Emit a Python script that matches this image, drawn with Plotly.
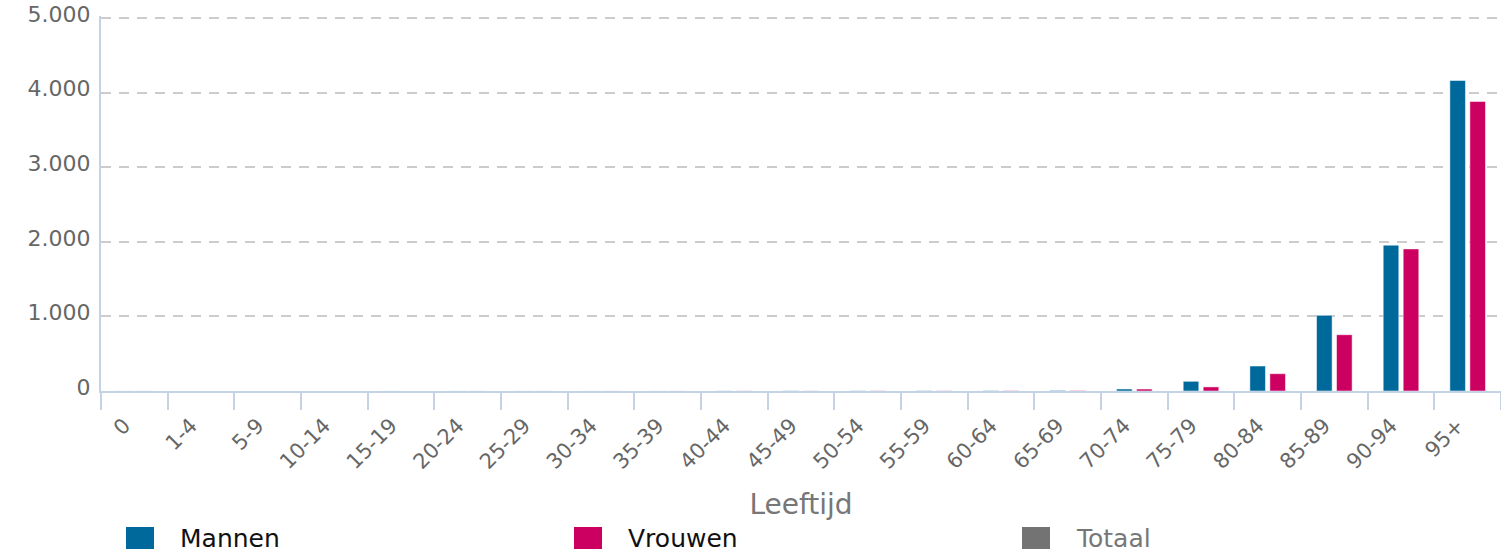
import plotly.graph_objects as go

leeftijd = ["0", "1-4", "5-9", "10-14", "15-19", "20-24", "25-29", "30-34", "35-39",
            "40-44", "45-49", "50-54", "55-59", "60-64", "65-69", "70-74", "75-79",
            "80-84", "85-89", "90-94", "95+"]
mannen = [1, 0, 0, 0, 1, 1, 1, 1, 1, 2, 3, 3, 4, 5, 8, 27, 130, 335, 1015, 1956, 4165]
vrouwen = [1, 0, 0, 0, 0, 1, 1, 1, 1, 2, 2, 3, 3, 4, 6, 26, 55, 232, 755, 1906, 3883]

legend_names = ["Mannen", "Vrouwen", "Totaal"]
legend_colors = ["#00699b", "#cc0060", "#737373"]
legend_text_colors = ["#111111", "#111111", "#777777"]

font = "DejaVu Sans, Verdana, sans-serif"

fig = go.Figure()
fig.add_trace(go.Bar(x=leeftijd, y=mannen, name="Mannen", marker_color=legend_colors[0],
                     marker_line=dict(color="rgba(255,255,255,0.5)", width=1), showlegend=False))
fig.add_trace(go.Bar(x=leeftijd, y=vrouwen, name="Vrouwen", marker_color=legend_colors[1],
                     marker_line=dict(color="rgba(255,255,255,0.5)", width=1), showlegend=False))

# plot area: x 101..1501, y 0 at 391, 5000 at ~18
ph = 375
shapes = []
annotations = []
legend_x = [126, 574, 1022]
for name, col, tcol, lx in zip(legend_names, legend_colors, legend_text_colors, legend_x):
    shapes.append(dict(type="rect", xref="paper", yref="paper",
                       x0=(lx - 101) / 1400, x1=(lx + 28 - 101) / 1400,
                       y0=-(527 - 391) / ph, y1=-(549 - 391) / ph,
                       fillcolor=col, line_width=0))
    annotations.append(dict(text=name, xref="paper", yref="paper",
                            x=(lx + 52 - 101) / 1400, y=-(538 - 391) / ph,
                            xanchor="left", yanchor="middle", showarrow=False,
                            font=dict(family=font, size=25, color=tcol)))

fig.update_layout(
    width=1501, height=553,
    margin=dict(l=101, r=0, t=16, b=162),
    plot_bgcolor="white", paper_bgcolor="white",
    barmode="group", bargap=0.4, bargroupgap=0.22,
    font=dict(family=font, color="#666666"),
    shapes=shapes, annotations=annotations,
    xaxis=dict(
        title=dict(text="Leeftijd", font=dict(size=28, color="#777777"), standoff=22),
        tickangle=-45, tickfont=dict(size=21, color="#666666"),
        ticklabelstandoff=12, ticklabelshift=-10,
        tickson="boundaries", ticks="outside", ticklen=17, tickwidth=2, tickcolor="#c4d3e3",
        showline=True, linecolor="#c4d3e3", linewidth=2, showgrid=False,
        automargin=False,
    ),
    yaxis=dict(
        range=[0, 5030], tickvals=[0, 1000, 2000, 3000, 4000, 5000],
        ticktext=["0", "1.000", "2.000", "3.000", "4.000", "5.000"],
        tickfont=dict(size=22, color="#666666"), ticklabelshift=-4, ticklabelstandoff=4,
        showline=True, linecolor="#c4d3e3", linewidth=2,
        showgrid=True, gridcolor="#cccccc", gridwidth=2, griddash="10px,8px",
        zeroline=False, automargin=False,
    ),
)

# drop the default 8px page margin so the figure fills the window
fig.write_html("out.html", config={"displayModeBar": False},
               post_script="document.body.style.margin='0';")
